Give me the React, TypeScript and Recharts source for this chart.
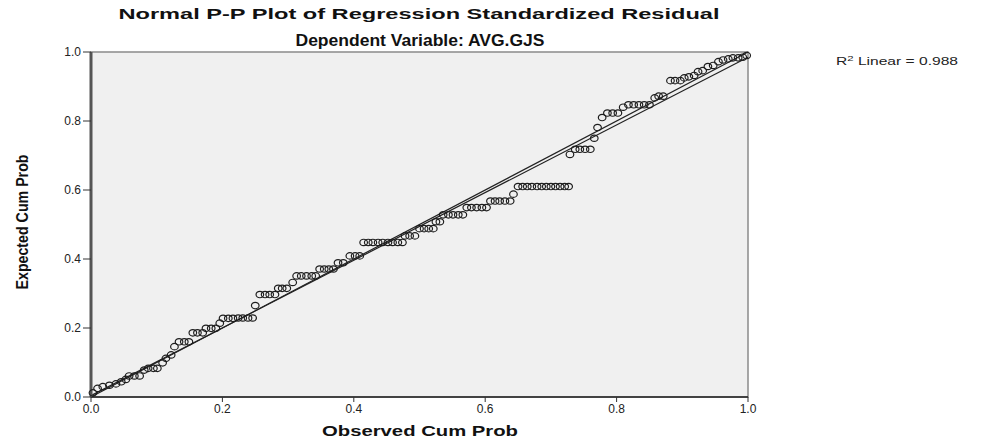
import { ScatterChart, Scatter, XAxis, YAxis, ReferenceArea, ReferenceLine } from "recharts";

const obsCum = [
  0.003, 0.010, 0.018, 0.028, 0.038, 0.046, 0.053, 0.058, 0.066, 0.074,
  0.081, 0.087, 0.095, 0.101, 0.109, 0.114, 0.122, 0.127, 0.134, 0.142,
  0.149, 0.155, 0.162, 0.170, 0.175, 0.183, 0.190, 0.196, 0.201, 0.209,
  0.216, 0.224, 0.231, 0.239, 0.246, 0.250, 0.257, 0.265, 0.272, 0.280,
  0.285, 0.291, 0.298, 0.307, 0.313, 0.320, 0.328, 0.336, 0.342, 0.348,
  0.355, 0.362, 0.369, 0.376, 0.384, 0.394, 0.402, 0.409, 0.415, 0.422,
  0.429, 0.437, 0.444, 0.452, 0.459, 0.467, 0.474, 0.478, 0.485, 0.493,
  0.500, 0.507, 0.514, 0.521, 0.525, 0.531, 0.536, 0.544, 0.551, 0.559,
  0.566, 0.572, 0.579, 0.587, 0.595, 0.602, 0.608, 0.615, 0.622, 0.630,
  0.638, 0.643, 0.650, 0.657, 0.664, 0.671, 0.679, 0.686, 0.693, 0.700,
  0.707, 0.714, 0.721, 0.727, 0.729, 0.737, 0.744, 0.752, 0.760, 0.766,
  0.771, 0.778, 0.786, 0.794, 0.802, 0.810, 0.818, 0.826, 0.834, 0.842,
  0.850, 0.858, 0.864, 0.871, 0.882, 0.889, 0.897, 0.903, 0.910, 0.918,
  0.924, 0.931, 0.939, 0.947, 0.955, 0.962, 0.970, 0.977, 0.985, 0.992,
  0.998,
];
const expCum = [
  0.012, 0.025, 0.030, 0.034, 0.038, 0.044, 0.051, 0.061, 0.061, 0.061,
  0.078, 0.083, 0.083, 0.083, 0.099, 0.112, 0.122, 0.146, 0.160, 0.160,
  0.160, 0.186, 0.186, 0.186, 0.199, 0.199, 0.199, 0.214, 0.228, 0.228,
  0.228, 0.229, 0.229, 0.229, 0.229, 0.265, 0.297, 0.297, 0.297, 0.297,
  0.315, 0.315, 0.315, 0.332, 0.351, 0.351, 0.351, 0.351, 0.351, 0.371,
  0.371, 0.371, 0.371, 0.389, 0.389, 0.409, 0.409, 0.409, 0.448, 0.448,
  0.448, 0.448, 0.448, 0.448, 0.448, 0.448, 0.448, 0.467, 0.467, 0.467,
  0.488, 0.488, 0.488, 0.488, 0.508, 0.508, 0.528, 0.528, 0.528, 0.528,
  0.528, 0.549, 0.549, 0.549, 0.549, 0.549, 0.568, 0.568, 0.568, 0.568,
  0.568, 0.588, 0.610, 0.610, 0.610, 0.610, 0.610, 0.610, 0.610, 0.610,
  0.610, 0.610, 0.610, 0.610, 0.703, 0.718, 0.718, 0.718, 0.718, 0.750,
  0.781, 0.810, 0.823, 0.823, 0.823, 0.840, 0.847, 0.847, 0.847, 0.847,
  0.847, 0.867, 0.872, 0.872, 0.917, 0.917, 0.917, 0.925, 0.928, 0.932,
  0.943, 0.946, 0.958, 0.961, 0.972, 0.977, 0.980, 0.983, 0.983, 0.985,
  0.990,
];
const axisTicks = [0, 0.2, 0.4, 0.6, 0.8, 1.0];
const diagonal = [{ x: 0, y: 0 }, { x: 1, y: 1 }];
const fitLine = [{ x: 0, y: 0.004 }, { x: 1, y: 0.985 }];

const points = obsCum.map((x, i) => ({ x, y: expCum[i] }));

const font = "'Liberation Sans', Arial, sans-serif";

const Ring = (props: any) => (
  <ellipse cx={props.cx} cy={props.cy} rx={3.8} ry={3.2} fill="none" stroke="#1e1e1e" strokeWidth={1.2} />
);

const App = () => {
  return (
    <div style={{ position: "relative", width: 991, height: 442, background: "#fff" }}>
      <style>{"body{margin:0}"}</style>
      <ScatterChart
        width={991}
        height={442}
        margin={{ top: 52, right: 243, bottom: 15, left: 31 }}
        style={{ fontFamily: font }}
      >
        <ReferenceArea x1={0} x2={1} y1={0} y2={1} fill="#f0f0f0" fillOpacity={1} stroke="#8a8a8a" strokeWidth={1.5} />
        <XAxis
          type="number"
          dataKey="x"
          domain={[0, 1]}
          ticks={axisTicks}
          tickFormatter={(v: number) => v.toFixed(1)}
          height={30}
          tickSize={5}
          axisLine={{ stroke: "#222", strokeWidth: 1.5 }}
          tickLine={{ stroke: "#333" }}
          tick={{ fill: "#222", fontSize: 12 }}
        />
        <YAxis
          type="number"
          dataKey="y"
          domain={[0, 1]}
          ticks={axisTicks}
          tickFormatter={(v: number) => v.toFixed(1)}
          width={60}
          tickSize={8}
          axisLine={{ stroke: "#555", strokeWidth: 3 }}
          tickLine={{ stroke: "#333" }}
          tick={{ fill: "#222", fontSize: 12 }}
        />
        <ReferenceLine segment={diagonal} stroke="#222" strokeWidth={1.2} ifOverflow="visible" />
        <ReferenceLine segment={fitLine} stroke="#222" strokeWidth={1.2} ifOverflow="visible" />
        <Scatter data={points} shape={Ring} isAnimationActive={false} />
      </ScatterChart>

      <svg
        width={991}
        height={442}
        style={{ position: "absolute", left: 0, top: 0, pointerEvents: "none", fontFamily: font }}
      >
        <text x={419} y={19} textAnchor="middle" fontSize={15} fontWeight="bold" fill="#111"
          textLength={601} lengthAdjust="spacingAndGlyphs">
          Normal P-P Plot of Regression Standardized Residual
        </text>
        <text x={420} y={46} textAnchor="middle" fontSize={16} fontWeight="bold" fill="#111"
          textLength={249} lengthAdjust="spacingAndGlyphs">
          Dependent Variable: AVG.GJS
        </text>
        <text x={420} y={436} textAnchor="middle" fontSize={15} fontWeight="bold" fill="#111"
          textLength={196} lengthAdjust="spacingAndGlyphs">
          Observed Cum Prob
        </text>
        <text x={0} y={0} transform="translate(28,222) rotate(-90)" textAnchor="middle" fontSize={16}
          fontWeight="bold" fill="#111" textLength={135} lengthAdjust="spacingAndGlyphs">
          Expected Cum Prob
        </text>
        <text x={836} y={65} fontSize={11} fill="#222" textLength={122} lengthAdjust="spacingAndGlyphs">
          R<tspan fontSize={8} dy={-4}>2</tspan><tspan dy={4}> Linear = 0.988</tspan>
        </text>
      </svg>
    </div>
  );
};

export default App;
